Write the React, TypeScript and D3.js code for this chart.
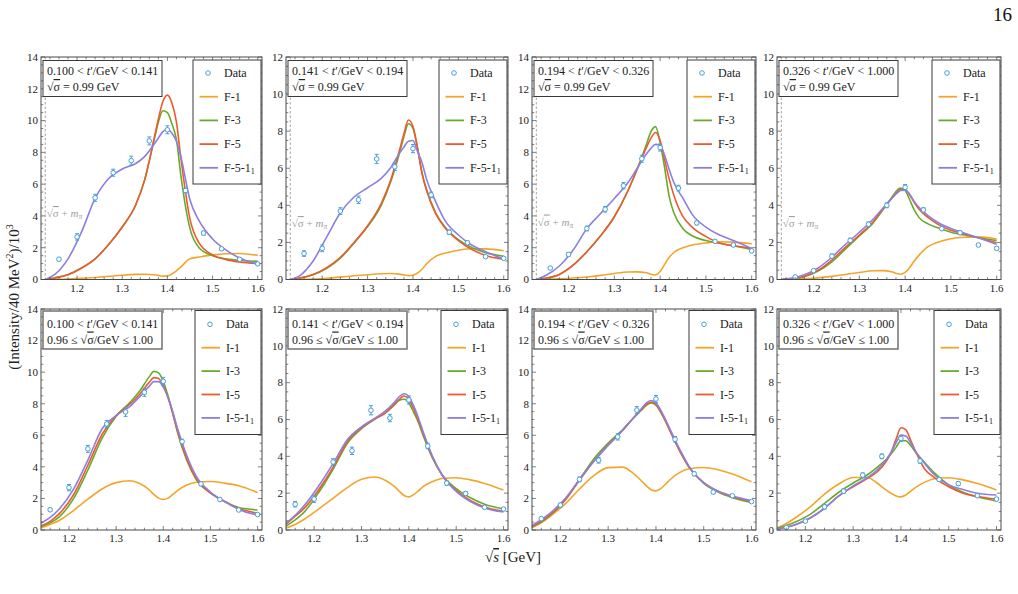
import React from "react";
import * as d3 from "d3";

// Invariant-mass bin centres of the measured points (GeV)
const massPoints = [1.16, 1.2, 1.24, 1.28, 1.32, 1.36, 1.4, 1.44, 1.48, 1.52, 1.56, 1.6];

// t' bins
const tLow = ["0.100", "0.141", "0.194", "0.326"];
const tHigh = ["0.141", "0.194", "0.326", "1.000"];
const yMaxByBin = [14, 12, 14, 12];

// Measured intensities (per 40 MeV, in units of 10^3) and their uncertainties
const intensityBin1 = [1.28, 2.68, 5.14, 6.72, 7.48, 8.72, 9.42, 5.6, 2.92, 1.93, 1.27, 0.98];
const intensityBin2 = [1.4, 1.68, 3.69, 4.3, 6.5, 6.08, 7.06, 4.56, 2.55, 1.98, 1.23, 1.14];
const intensityBin3 = [0.72, 1.58, 3.21, 4.42, 5.9, 7.6, 8.3, 5.75, 3.56, 2.4, 2.17, 1.8];
const intensityBin4 = [0.14, 0.48, 1.26, 2.11, 2.98, 4.0, 4.97, 3.75, 2.74, 2.52, 1.86, 1.68];
const errorBin1 = [0.1, 0.2, 0.22, 0.22, 0.28, 0.25, 0.25, 0.15, 0.12, 0.09, 0.06, 0.05];
const errorBin2 = [0.15, 0.18, 0.18, 0.2, 0.25, 0.2, 0.22, 0.15, 0.12, 0.1, 0.06, 0.05];
const errorBin3 = [0.08, 0.12, 0.15, 0.18, 0.2, 0.22, 0.22, 0.18, 0.12, 0.08, 0.07, 0.07];
const errorBin4 = [0.05, 0.05, 0.12, 0.12, 0.12, 0.13, 0.15, 0.12, 0.08, 0.1, 0.06, 0.08];

// Sampling of the model line shapes
const fixedGrid = [1.13, 1.15, 1.18, 1.21, 1.24, 1.27, 1.3, 1.33, 1.35, 1.37, 1.38, 1.39, 1.4, 1.41, 1.42, 1.43, 1.45, 1.47, 1.5, 1.53, 1.56, 1.6];
const intervalGrid = [1.14, 1.16, 1.18, 1.21, 1.24, 1.27, 1.3, 1.33, 1.35, 1.37, 1.38, 1.39, 1.4, 1.41, 1.42, 1.43, 1.45, 1.47, 1.5, 1.53, 1.56, 1.6];

// Fixed sqrt(sigma) = 0.99 GeV fits
const fitF1 = [
  [0, 0.01, 0.03, 0.07, 0.13, 0.2, 0.27, 0.32, 0.33, 0.3, 0.26, 0.21, 0.22, 0.35, 0.55, 0.8, 1.3, 1.42, 1.55, 1.62, 1.64, 1.52],
  [0, 0.01, 0.03, 0.07, 0.13, 0.2, 0.26, 0.31, 0.32, 0.29, 0.25, 0.21, 0.23, 0.35, 0.55, 0.85, 1.25, 1.42, 1.58, 1.66, 1.65, 1.55],
  [0, 0.01, 0.04, 0.09, 0.16, 0.26, 0.38, 0.47, 0.48, 0.42, 0.33, 0.29, 0.5, 0.95, 1.4, 1.7, 2.0, 2.17, 2.3, 2.38, 2.35, 2.25],
  [0, 0.01, 0.04, 0.09, 0.17, 0.27, 0.38, 0.47, 0.48, 0.42, 0.34, 0.28, 0.38, 0.65, 1.0, 1.3, 1.77, 2.0, 2.2, 2.28, 2.3, 2.18],
];
const fitF3 = [
  [0, 0.1, 0.3, 0.72, 1.3, 2.2, 3.3, 4.7, 6.3, 8.7, 9.9, 10.62, 10.5, 9.8, 8.8, 6.5, 3.2, 2.0, 1.5, 1.3, 1.2, 1.15],
  [0, 0.07, 0.25, 0.6, 1.15, 1.95, 2.85, 4.0, 5.2, 6.8, 7.7, 8.4, 8.15, 7.1, 5.75, 4.85, 3.6, 2.85, 2.15, 1.72, 1.45, 1.25],
  [0, 0.08, 0.32, 0.9, 1.75, 2.75, 3.95, 5.6, 6.95, 8.5, 9.3, 9.62, 8.6, 7.0, 5.2, 4.2, 3.2, 2.75, 2.45, 2.28, 2.12, 1.9],
  [0, 0.03, 0.15, 0.45, 0.95, 1.65, 2.35, 3.05, 3.7, 4.4, 4.75, 4.93, 4.8, 4.3, 3.75, 3.35, 3.0, 2.8, 2.55, 2.4, 2.25, 2.1],
];
const fitF5 = [
  [0, 0.1, 0.3, 0.72, 1.3, 2.2, 3.3, 4.7, 6.3, 8.8, 10.1, 11.2, 11.6, 11.1, 9.9, 7.6, 3.8, 2.3, 1.55, 1.25, 1.1, 1.0],
  [0, 0.08, 0.27, 0.64, 1.2, 2.0, 2.9, 4.1, 5.3, 6.95, 7.85, 8.6, 8.25, 7.1, 5.7, 4.8, 3.55, 2.8, 2.1, 1.62, 1.3, 1.1],
  [0, 0.08, 0.32, 0.9, 1.75, 2.75, 3.95, 5.6, 6.95, 8.3, 8.9, 9.25, 8.75, 7.5, 6.3, 5.3, 3.95, 3.3, 2.7, 2.3, 2.12, 1.98],
  [0, 0.04, 0.18, 0.5, 1.05, 1.75, 2.4, 3.1, 3.75, 4.35, 4.65, 4.85, 4.85, 4.55, 4.15, 3.8, 3.35, 3.0, 2.65, 2.45, 2.25, 1.98],
];
const fitF51 = [
  [0, 0.3, 1.3, 3.0, 5.1, 6.35, 6.95, 7.3, 7.75, 8.5, 8.9, 9.3, 9.45, 9.2, 8.7, 7.7, 5.0, 3.7, 2.55, 1.85, 1.35, 0.97],
  [0, 0.2, 1.0, 2.3, 3.6, 4.45, 4.95, 5.45, 6.0, 6.8, 7.15, 7.45, 7.5, 6.9, 6.3, 5.4, 4.2, 3.2, 2.4, 1.85, 1.5, 1.1],
  [0, 0.25, 0.85, 1.85, 3.2, 4.15, 5.1, 6.1, 7.0, 7.9, 8.25, 8.5, 8.45, 7.8, 6.9, 6.1, 5.1, 4.1, 3.3, 2.8, 2.45, 1.95],
  [0, 0.06, 0.25, 0.62, 1.2, 1.9, 2.55, 3.25, 3.8, 4.35, 4.6, 4.8, 4.82, 4.6, 4.2, 3.9, 3.45, 3.1, 2.75, 2.5, 2.25, 1.9],
];

// Fits with sqrt(sigma) in the interval 0.96 - 1.00 GeV
const fitI1 = [
  [0.12, 0.35, 0.62, 1.25, 1.95, 2.6, 3.0, 3.12, 2.95, 2.55, 2.25, 2.02, 1.94, 2.02, 2.25, 2.5, 2.85, 3.02, 3.07, 2.97, 2.8, 2.38],
  [0.1, 0.3, 0.6, 1.15, 1.72, 2.3, 2.75, 2.88, 2.7, 2.35, 2.1, 1.87, 1.8, 1.92, 2.12, 2.35, 2.63, 2.8, 2.84, 2.72, 2.53, 2.17],
  [0.15, 0.45, 0.9, 1.65, 2.6, 3.45, 3.95, 3.98, 3.65, 3.1, 2.8, 2.55, 2.48, 2.62, 2.9, 3.2, 3.65, 3.88, 3.96, 3.82, 3.55, 3.05],
  [0.1, 0.35, 0.68, 1.25, 1.95, 2.5, 2.85, 2.85, 2.55, 2.15, 1.98, 1.85, 1.8, 1.9, 2.1, 2.3, 2.6, 2.78, 2.84, 2.72, 2.52, 2.17],
];
const fitI3 = [
  [0.2, 0.45, 0.85, 2.0, 3.8, 5.8, 7.2, 8.1, 8.8, 9.7, 10.05, 9.95, 9.4, 8.5, 7.4, 6.2, 4.4, 3.2, 2.35, 1.82, 1.42, 1.27],
  [0.2, 0.55, 1.0, 2.05, 3.3, 4.7, 5.5, 6.05, 6.35, 6.8, 7.05, 7.1, 6.9, 6.4, 5.85, 5.15, 3.9, 3.0, 2.25, 1.75, 1.4, 1.15],
  [0.18, 0.5, 0.95, 1.9, 3.2, 4.5, 5.5, 6.35, 7.0, 7.6, 7.9, 8.05, 7.9, 7.45, 6.9, 6.25, 5.0, 3.95, 2.95, 2.4, 2.05, 1.75],
  [0.1, 0.25, 0.45, 0.85, 1.45, 2.05, 2.55, 3.0, 3.4, 3.85, 4.15, 4.5, 4.85, 4.85, 4.6, 4.25, 3.65, 3.1, 2.45, 2.05, 1.8, 1.57],
];
const fitI5 = [
  [0.25, 0.55, 1.05, 2.25, 4.1, 6.05, 7.25, 8.0, 8.6, 9.35, 9.65, 9.6, 9.15, 8.4, 7.4, 6.3, 4.5, 3.25, 2.35, 1.8, 1.37, 1.06],
  [0.3, 0.75, 1.2, 2.2, 3.4, 4.8, 5.55, 6.05, 6.35, 6.85, 7.1, 7.28, 7.1, 6.6, 5.95, 5.25, 3.95, 3.0, 2.15, 1.6, 1.25, 1.02],
  [0.2, 0.55, 1.0, 1.9, 3.15, 4.35, 5.4, 6.3, 7.0, 7.65, 7.95, 8.1, 7.95, 7.5, 6.9, 6.25, 5.0, 3.95, 3.0, 2.45, 2.1, 1.8],
  [0.05, 0.15, 0.3, 0.65, 1.18, 1.85, 2.35, 2.8, 3.15, 3.75, 4.25, 4.95, 5.55, 5.45, 4.9, 4.3, 3.3, 2.85, 2.35, 2.0, 1.82, 1.68],
];
const fitI51 = [
  [0.42, 0.8, 1.35, 2.6, 4.43, 6.4, 7.25, 7.85, 8.45, 9.1, 9.4, 9.4, 9.05, 8.4, 7.5, 6.45, 4.7, 3.4, 2.4, 1.8, 1.3, 0.95],
  [0.35, 0.8, 1.35, 2.4, 3.6, 4.9, 5.6, 6.1, 6.45, 6.95, 7.25, 7.4, 7.25, 6.75, 6.1, 5.35, 4.0, 3.0, 2.1, 1.55, 1.2, 0.98],
  [0.28, 0.65, 1.1, 2.0, 3.2, 4.35, 5.35, 6.3, 7.0, 7.7, 8.05, 8.2, 8.05, 7.6, 7.0, 6.35, 5.1, 4.0, 3.0, 2.45, 2.15, 1.85],
  [0.05, 0.15, 0.3, 0.65, 1.18, 1.85, 2.4, 2.85, 3.25, 3.85, 4.25, 4.75, 5.15, 5.1, 4.75, 4.3, 3.6, 3.0, 2.45, 2.2, 2.0, 1.9],
];

const threshold = 1.1296; // sqrt(sigma) + m_pi for sqrt(sigma) = 0.99 GeV

// Layout
const colLeft = [41, 286, 532, 777];
const colWidth = [221, 222, 224, 224];
const rowTop = [57, 309];
const rowHeight = [222.5, 221];
const xDomainTop: [number, number] = [1.1202, 1.6094];
const xDomainBottom: [number, number] = [1.1406, 1.6094];
const thresholdLabelOffset = [156, 166, 164.5, 166];

const COLORS = {
  m1: "#F5A42A",
  m3: "#66AC2C",
  m5: "#EE5A2F",
  m51: "#8A7FE2",
  data: "#4A9FDA",
  frame: "#4a4a4a",
  text: "#222",
};
const FONT = "'Liberation Serif', 'DejaVu Serif', serif";

const intensityBins = [intensityBin1, intensityBin2, intensityBin3, intensityBin4];
const errorBins = [errorBin1, errorBin2, errorBin3, errorBin4];

function SqrtSigma() {
  return (
    <>
      <tspan>√</tspan>
      <tspan style={{ textDecoration: "overline" }}>σ</tspan>
    </>
  );
}

function Panel({ row, bin }: { row: number; bin: number }) {
  const left = colLeft[bin];
  const top = rowTop[row];
  const w = colWidth[bin];
  const h = rowHeight[row];
  const right = left + w;
  const bottom = top + h;
  const yMax = yMaxByBin[bin];

  const x = d3.scaleLinear().domain(row === 0 ? xDomainTop : xDomainBottom).range([left, right]);
  const y = d3.scaleLinear().domain([0, yMax]).range([bottom, top]);
  const grid = row === 0 ? fixedGrid : intervalGrid;
  const prefix = row === 0 ? "F" : "I";
  const models = row === 0
    ? [fitF1[bin], fitF3[bin], fitF5[bin], fitF51[bin]]
    : [fitI1[bin], fitI3[bin], fitI5[bin], fitI51[bin]];
  const colors = [COLORS.m1, COLORS.m3, COLORS.m5, COLORS.m51];
  const names = ["-1", "-3", "-5", "-5-1"];

  const line = d3
    .line<number>()
    .x((_, i) => x(grid[i]))
    .y((d) => y(d))
    .curve(d3.curveMonotoneX);

  const clipId = `clip-${row}-${bin}`;
  const [d0, d1] = x.domain();

  // x ticks every 0.02 GeV, labelled every 0.1
  const xTicks: { v: number; major: boolean }[] = [];
  for (let k = 55; k <= 81; k++) {
    const v = k * 0.02;
    if (v >= d0 - 1e-9 && v <= d1 + 1e-9) xTicks.push({ v, major: k % 5 === 0 });
  }
  const yTicks: { v: number; major: boolean }[] = [];
  for (let k = 0; k <= yMax * 2; k++) yTicks.push({ v: k * 0.5, major: k % 4 === 0 });

  const intens = intensityBins[bin];
  const errs = errorBins[bin];

  const legLeft = row === 0 ? right - 69 : right - 67;
  const legW = row === 0 ? 68 : 66;
  const legTop = row === 0 ? top + 3 : top + 1.5;
  const legRowY = (i: number) => (row === 0 ? top + 16 : top + 15.3) + i * (row === 0 ? 23.7 : 23.4);

  return (
    <g>
      <defs>
        <clipPath id={clipId}>
          <rect x={left} y={top} width={w} height={h} />
        </clipPath>
      </defs>

      {row === 0 && (
        <g>
          <line
            x1={x(threshold)}
            x2={x(threshold)}
            y1={top}
            y2={bottom}
            stroke="#9a9a9a"
            strokeWidth={0.9}
            strokeDasharray="2.5,2"
          />
          <text
            x={x(threshold) + 1.5}
            y={top + thresholdLabelOffset[bin] + 4}
            fontFamily={FONT}
            fontSize={11}
            fill="#a0a0a0"
          >
            <SqrtSigma />
            <tspan> + </tspan>
            <tspan fontStyle="italic">m</tspan>
            <tspan fontStyle="italic" fontSize={7.5} dy={2}>π</tspan>
          </text>
        </g>
      )}

      <g clipPath={`url(#${clipId})`}>
        {models.map((m, i) => (
          <path key={i} d={line(m) || ""} fill="none" stroke={colors[i]} strokeWidth={1.6} />
        ))}
      </g>

      {massPoints.map((mx, i) => {
        const cx = x(mx);
        const yl = y(intens[i] - errs[i]);
        const yh = y(intens[i] + errs[i]);
        return (
          <g key={i} stroke={COLORS.data} strokeWidth={1} fill="none">
            <line x1={cx} x2={cx} y1={yl} y2={yh} />
            <line x1={cx - 2} x2={cx + 2} y1={yl} y2={yl} />
            <line x1={cx - 2} x2={cx + 2} y1={yh} y2={yh} />
            <circle cx={cx} cy={y(intens[i])} r={2.3} fill="white" />
          </g>
        );
      })}

      {/* frame and ticks */}
      <rect x={left} y={top} width={w} height={h} fill="none" stroke={COLORS.frame} strokeWidth={1} />
      {xTicks.map((t, i) => {
        const px = x(t.v);
        const len = t.major ? 4 : 2.3;
        return (
          <g key={i} stroke={COLORS.frame} strokeWidth={0.7}>
            <line x1={px} x2={px} y1={bottom} y2={bottom - len} />
            <line x1={px} x2={px} y1={top} y2={top + len} />
          </g>
        );
      })}
      {yTicks.map((t, i) => {
        const py = y(t.v);
        const len = t.major ? 4 : 2.3;
        return (
          <g key={i} stroke={COLORS.frame} strokeWidth={0.7}>
            <line x1={left} x2={left + len} y1={py} y2={py} />
            <line x1={right} x2={right - len} y1={py} y2={py} />
          </g>
        );
      })}
      {xTicks
        .filter((t) => t.major)
        .map((t, i) => (
          <text
            key={i}
            x={x(t.v)}
            y={bottom + 12}
            textAnchor="middle"
            fontFamily={FONT}
            fontSize={11}
            fill={COLORS.text}
          >
            {d3.format(".1f")(t.v)}
          </text>
        ))}
      {yTicks
        .filter((t) => t.major)
        .map((t, i) => (
          <text
            key={i}
            x={left - 3}
            y={y(t.v) + 3.8}
            textAnchor="end"
            fontFamily={FONT}
            fontSize={11}
            fill={COLORS.text}
          >
            {t.v}
          </text>
        ))}

      {/* bin description */}
      <rect
        x={left + 2}
        y={row === 0 ? top + 3.5 : top + 2}
        width={119}
        height={row === 0 ? 36 : 38}
        fill="white"
        stroke={row === 0 ? "#3a3a3a" : "#7a7a7a"}
        strokeWidth={row === 0 ? 1 : 1.6}
      />
      <text x={left + 6} y={top + (row === 0 ? 18 : 19)} fontFamily={FONT} fontSize={12} fill={COLORS.text}>
        {tLow[bin]} {"<"} <tspan fontStyle="italic">t</tspan>′/GeV {"<"} {tHigh[bin]}
      </text>
      {row === 0 ? (
        <text x={left + 6} y={top + 34} fontFamily={FONT} fontSize={12} fill={COLORS.text}>
          <SqrtSigma />
          <tspan> = 0.99 GeV</tspan>
        </text>
      ) : (
        <text x={left + 6} y={top + 34.5} fontFamily={FONT} fontSize={12} fill={COLORS.text}>
          <tspan>0.96 ≤ </tspan>
          <SqrtSigma />
          <tspan>/GeV ≤ 1.00</tspan>
        </text>
      )}

      {/* legend */}
      <rect x={legLeft} y={legTop} width={legW} height={124} fill="white" stroke="#3a3a3a" strokeWidth={1} />
      <circle cx={legLeft + 15} cy={legRowY(0)} r={2.3} fill="white" stroke={COLORS.data} strokeWidth={1} />
      <text x={legLeft + 31} y={legRowY(0) + 4} fontFamily={FONT} fontSize={12} fill={COLORS.text}>
        Data
      </text>
      {names.map((n, i) => (
        <g key={i}>
          <line
            x1={legLeft + 6.5}
            x2={legLeft + 25}
            y1={legRowY(i + 1)}
            y2={legRowY(i + 1)}
            stroke={colors[i]}
            strokeWidth={1.8}
          />
          <text x={legLeft + 31} y={legRowY(i + 1) + 4} fontFamily={FONT} fontSize={12} fill={COLORS.text}>
            {prefix}
            {n}
            {i === 3 && (
              <tspan fontSize={8} dy={2.5}>
                1
              </tspan>
            )}
          </text>
        </g>
      ))}
    </g>
  );
}

export default function App() {
  return (
    <svg
      width={1018}
      height={594}
      viewBox="0 0 1018 594"
      style={{ position: "absolute", left: 0, top: 0, background: "white" }}
    >
      <rect x={0} y={0} width={1018} height={594} fill="white" />
      <text x={1012} y={21} textAnchor="end" fontFamily={FONT} fontSize={19} fill="#111">
        16
      </text>
      {[0, 1].map((row) => [0, 1, 2, 3].map((bin) => <Panel key={`${row}-${bin}`} row={row} bin={bin} />))}
      <text
        transform="translate(19,297) rotate(-90)"
        textAnchor="middle"
        fontFamily={FONT}
        fontSize={15}
        fill={COLORS.text}
      >
        (Intensity/40 MeV<tspan fontSize={10} dy={-6}>2</tspan>
        <tspan dy={6}>)/10</tspan>
        <tspan fontSize={10} dy={-6}>3</tspan>
      </text>
      <text x={513} y={562} textAnchor="middle" fontFamily={FONT} fontSize={15} fill={COLORS.text}>
        √<tspan fontStyle="italic" style={{ textDecoration: "overline" }}>s</tspan> [GeV]
      </text>
    </svg>
  );
}
